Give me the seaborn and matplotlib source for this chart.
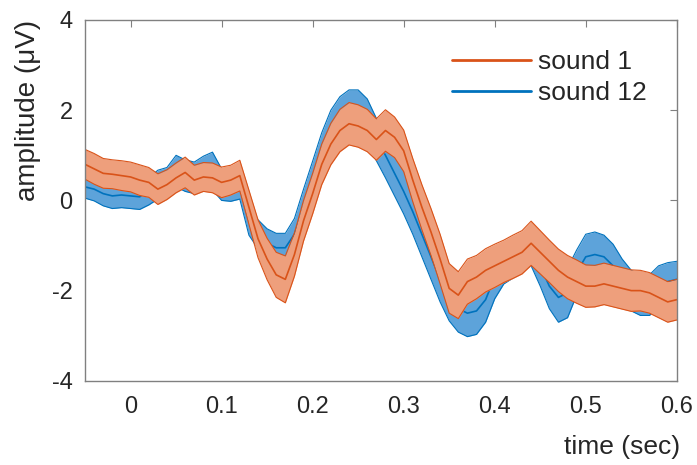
import numpy as np
import pandas as pd
import seaborn as sns
import matplotlib.pyplot as plt
from matplotlib.lines import Line2D

# %% Data (10 ms steps)

time = np.round(np.arange(-0.05, 0.601, 0.01), 2)

sound1_mean = [0.80, 0.70, 0.60, 0.58, 0.55, 0.52, 0.45, 0.40, 0.25, 0.35,
               0.50, 0.62, 0.45, 0.52, 0.50, 0.40, 0.45, 0.55, -0.15, -0.85,
               -1.30, -1.65, -1.75, -1.20, -0.45, 0.15, 0.80, 1.25, 1.55, 1.70,
               1.65, 1.55, 1.35, 1.55, 1.40, 1.10, 0.45, -0.15, -0.70, -1.30,
               -1.95, -2.10, -1.80, -1.70, -1.55, -1.45, -1.35, -1.25, -1.15, -0.95,
               -1.15, -1.35, -1.55, -1.70, -1.80, -1.90, -1.90, -1.85, -1.90, -1.95,
               -2.00, -2.00, -2.05, -2.15, -2.25, -2.20]
sound1_err = [0.33, 0.34, 0.33, 0.32, 0.33, 0.33, 0.34, 0.33, 0.34, 0.33,
              0.33, 0.34, 0.33, 0.32, 0.33, 0.34, 0.33, 0.34, 0.38, 0.42,
              0.46, 0.50, 0.52, 0.48, 0.45, 0.45, 0.45, 0.46, 0.47, 0.47,
              0.47, 0.47, 0.46, 0.46, 0.45, 0.46, 0.48, 0.50, 0.52, 0.55,
              0.55, 0.52, 0.50, 0.48, 0.48, 0.48, 0.47, 0.48, 0.48, 0.49,
              0.48, 0.47, 0.47, 0.48, 0.48, 0.47, 0.46, 0.46, 0.46, 0.46,
              0.46, 0.45, 0.45, 0.45, 0.45, 0.45]

sound12_mean = [0.30, 0.25, 0.15, 0.10, 0.12, 0.10, 0.08, 0.20, 0.35, 0.40,
                0.65, 0.55, 0.50, 0.60, 0.65, 0.35, 0.30, 0.35, -0.45, -0.75,
                -0.95, -1.05, -1.05, -0.75, -0.15, 0.45, 1.05, 1.55, 1.85, 2.00,
                2.00, 1.80, 1.35, 1.00, 0.60, 0.20, -0.25, -0.75, -1.25, -1.75,
                -2.15, -2.40, -2.50, -2.45, -2.20, -1.70, -1.40, -1.30, -1.15, -1.05,
                -1.45, -1.90, -2.15, -2.05, -1.60, -1.25, -1.20, -1.25, -1.45, -1.75,
                -2.00, -2.10, -2.10, -1.90, -1.80, -1.75]
sound12_err = [0.25, 0.26, 0.27, 0.28, 0.28, 0.28, 0.28, 0.30, 0.32, 0.33,
               0.35, 0.35, 0.35, 0.38, 0.42, 0.35, 0.32, 0.32, 0.32, 0.32,
               0.32, 0.32, 0.32, 0.35, 0.40, 0.42, 0.45, 0.45, 0.45, 0.45,
               0.45, 0.45, 0.47, 0.50, 0.50, 0.50, 0.50, 0.50, 0.50, 0.50,
               0.52, 0.52, 0.52, 0.52, 0.50, 0.48, 0.45, 0.42, 0.40, 0.40,
               0.45, 0.50, 0.55, 0.55, 0.50, 0.50, 0.50, 0.48, 0.48, 0.45,
               0.45, 0.45, 0.45, 0.45, 0.42, 0.40]

labels = ['sound 1', 'sound 12']
x_ticks = [0, 0.1, 0.2, 0.3, 0.4, 0.5, 0.6]
x_ticklabels = ['0', '0.1', '0.2', '0.3', '0.4', '0.5', '0.6']
y_ticks = [-4, -2, 0, 2, 4]

df = pd.DataFrame({
    'time': np.concatenate([time, time]),
    'amp': np.concatenate([sound1_mean, sound12_mean]),
    'err': np.concatenate([sound1_err, sound12_err]),
    'sound': np.repeat(labels, len(time)),
})

# %% Plot

sns.set_style('white')
plt.rcParams['font.family'] = ['Liberation Sans', 'DejaVu Sans']
plt.rcParams['axes.unicode_minus'] = False

line_col = {'sound 1': '#D95319', 'sound 12': '#0072BD'}
fill_col = {'sound 1': '#EE9F7C', 'sound 12': '#5DA3DA'}
txt = '#262626'

fig = plt.figure(figsize=(6.97, 4.65), dpi=100)
ax = fig.add_axes([0.122, 0.181, 0.849, 0.776])

# blue first, orange stacked on top
for k, name in enumerate(['sound 12', 'sound 1']):
    z = 1 + 3 * k
    d = df[df['sound'] == name]
    lo = d['amp'] - d['err']
    hi = d['amp'] + d['err']
    ax.fill_between(d['time'], lo, hi, color=fill_col[name], lw=0, zorder=z)
    ax.plot(d['time'], lo, color=line_col[name], lw=0.8, zorder=z + 1)
    ax.plot(d['time'], hi, color=line_col[name], lw=0.8, zorder=z + 1)
    sns.lineplot(data=d, x='time', y='amp', color=line_col[name], lw=1.2,
                 ax=ax, legend=False, zorder=z + 2)

ax.set_xlim(-0.05, 0.6)
ax.set_ylim(-4, 4)
ax.set_xticks(x_ticks)
ax.set_xticklabels(x_ticklabels)
ax.set_yticks(y_ticks)
ax.tick_params(direction='in', length=5, width=0.8, color='#808080',
               labelsize=17, labelcolor=txt, top=True, right=True)
ax.tick_params(axis='x', pad=11)
ax.tick_params(axis='y', pad=9)
for s in ax.spines.values():
    s.set_color('#808080')
    s.set_linewidth(1.0)
    s.set_zorder(10)

ax.set_xlabel('time (sec)', fontsize=19, color=txt, ha='right', va='center')
ax.xaxis.set_label_coords(1.005, -0.183)
ax.set_ylabel('amplitude (μV)', fontsize=20, color=txt, va='center')
ax.yaxis.set_label_coords(-0.096, 0.75)

handles = [Line2D([], [], color=line_col[n], lw=2) for n in labels]
ax.legend(handles, labels, loc='upper right', frameon=False, fontsize=19,
          handlelength=3, handletextpad=0.25, labelspacing=0.25,
          borderaxespad=0.75, labelcolor=txt)

fig.savefig('out.png', dpi=100)
